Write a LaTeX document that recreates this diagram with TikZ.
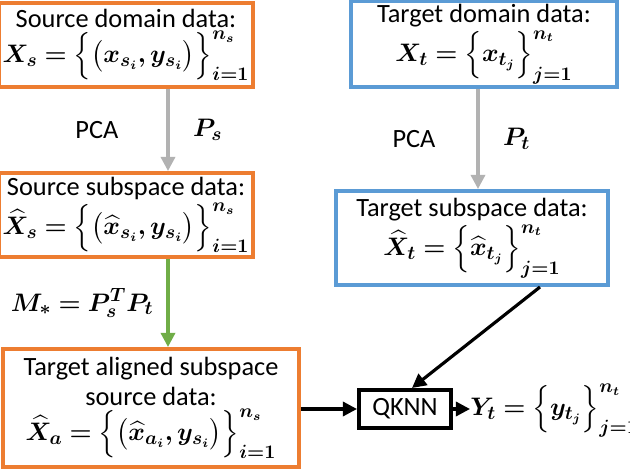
\documentclass[tikz,border=0pt]{standalone}
\usepackage{amsmath,amssymb,bm}
\usepackage{fontspec}
\setmainfont{Carlito}
\usetikzlibrary{arrows.meta,positioning}
\definecolor{srcorange}{RGB}{237,125,49}
\definecolor{tgtblue}{RGB}{91,155,213}
\definecolor{aligngreen}{RGB}{112,173,71}
\tikzset{
  databox/.style={draw,line width=2.3pt,align=center,inner sep=2pt,
    font=\fontsize{15}{17}\selectfont},
  srcbox/.style={databox,srcorange},
  tgtbox/.style={databox,tgtblue},
  flow/.style={-{Triangle[length=8pt,width=8pt]},line width=1.8pt},
  lbl/.style={font=\fontsize{15}{17}\selectfont}
}
\begin{document}
\begin{tikzpicture}[x=0.02cm,y=-0.02cm]
  \useasboundingbox (0,0) rectangle (630,470);
  % boxes
  \node[srcbox,minimum width=4.88cm,minimum height=1.68cm] (sd) at (126,45)
    {\color{black}Source domain data:\\[1pt]\color{black}$\bm{X_s=\Big\{\big(x_{s_i},y_{s_i}\big)\Big\}_{i=1}^{n_s}}$};
  \node[tgtbox,minimum width=5.32cm,minimum height=1.64cm] (td) at (484,44)
    {\color{black}Target domain data:\\[1pt]\color{black}$\bm{X_t=\Big\{x_{t_j}\Big\}_{j=1}^{n_t}}$};
  \node[srcbox,minimum width=4.88cm,minimum height=1.68cm] (ss) at (126,215)
    {\color{black}Source subspace data:\\[1pt]\color{black}$\bm{\widehat{X}_s=\Big\{\big(\widehat{x}_{s_i},y_{s_i}\big)\Big\}_{i=1}^{n_s}}$};
  \node[tgtbox,minimum width=5.44cm,minimum height=1.88cm] (ts) at (472,238)
    {\color{black}Target subspace data:\\[1pt]\color{black}$\bm{\widehat{X}_t=\Big\{\widehat{x}_{t_j}\Big\}_{j=1}^{n_t}}$};
  \node[srcbox,minimum width=5.92cm,minimum height=2.36cm] (al) at (151,408)
    {\color{black}Target aligned subspace\\\color{black}source data:\hspace{75pt}\\[1pt]\color{black}$\bm{\widehat{X}_a=\Big\{\big(\widehat{x}_{a_i},y_{s_i}\big)\Big\}_{i=1}^{n_s}}$};
  \node[draw,line width=2.3pt,minimum width=1.84cm,minimum height=0.76cm,
    font=\fontsize{15}{17}\selectfont] (qk) at (405,409) {QKNN};
  \node[anchor=west,inner sep=0pt,lbl] (yt) at (470,411)
    {$\bm{Y_t=\Big\{y_{t_j}\Big\}_{j=1}^{n_t}}$};
  \coordinate (lcol) at (168,0);
  \coordinate (rcol) at (478,0);
  \coordinate (tsout) at (540,0);
  \coordinate (qkin) at (412,0);
  % connectors
  \draw[flow,gray!60] (sd.south-|lcol) -- (ss.north-|lcol)
    node[midway,left=24pt,lbl,black]{PCA}
    node[midway,right=10pt,lbl,black]{$\bm{P_s}$};
  \draw[flow,gray!60] (td.south-|rcol) -- (ts.north-|rcol)
    node[midway,left=20pt,lbl,black]{PCA}
    node[midway,right=10pt,lbl,black]{$\bm{P_t}$};
  \draw[flow,aligngreen] (ss.south-|lcol) -- (al.north-|lcol)
    node[midway,left=4pt,lbl,black]{$\bm{M_*=P_s^TP_t}$};
  \draw[flow] (ts.south-|tsout) -- (qk.north-|qkin);
  \draw[flow] (al.east|-qk) -- (qk.west);
  \draw[flow] (qk.east) -- (yt.west|-qk);
\end{tikzpicture}
\end{document}
